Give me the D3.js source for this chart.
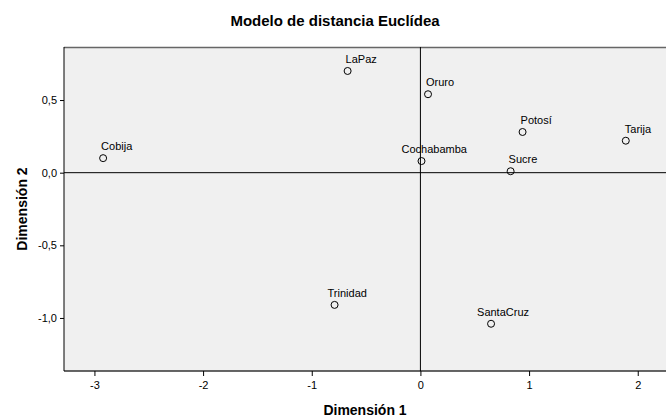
<!DOCTYPE html>
<html>
<head>
<meta charset="utf-8">
<script src="https://cdn.jsdelivr.net/npm/d3@7"></script>
<style>
  body { margin: 0; background: #fff; }
  text { font-family: "Liberation Sans", Arial, sans-serif; fill: #000; }
</style>
</head>
<body>
<script>
// data
let cities = ["Cobija", "LaPaz", "Oruro", "Potosí", "Tarija", "Cochabamba", "Sucre", "Trinidad", "SantaCruz"]
let dim1 = [-2.92, -0.67, 0.07, 0.94, 1.89, 0.01, 0.83, -0.79, 0.65]
let dim2 = [0.10, 0.70, 0.54, 0.28, 0.22, 0.08, 0.01, -0.91, -1.04]
let xTicks = [-3, -2, -1, 0, 1, 2]
let yTicks = [0.5, 0, -0.5, -1]

// label nudges (px), like SPSS placement
let labelDx = [-2, -2, -2, -2, -1, -20, -2, -7, -14]

let width = 666, height = 420
let pLeft = 64, pRight = 666, pTop = 47, pBottom = 371

let svg = d3.select("body").append("svg")
  .attr("width", width)
  .attr("height", height)

let x = d3.scaleLinear().domain([-3.28, 2.26]).range([pLeft, pRight])
let y = d3.scaleLinear().domain([-1.365, 0.865]).range([pBottom, pTop])

svg.append("rect")
  .attr("x", pLeft).attr("y", pTop)
  .attr("width", pRight - pLeft).attr("height", pBottom - pTop)
  .attr("fill", "#f0f0f0")

// frame
svg.append("line")
  .attr("x1", pLeft).attr("x2", pRight).attr("y1", pTop + 0.5).attr("y2", pTop + 0.5)
  .attr("stroke", "#666").attr("stroke-width", 1.5)
svg.append("line")
  .attr("x1", pLeft).attr("x2", pRight).attr("y1", pBottom).attr("y2", pBottom)
  .attr("stroke", "#333").attr("stroke-width", 1.5)
svg.append("line")
  .attr("x1", pLeft).attr("x2", pLeft).attr("y1", pTop).attr("y2", pBottom)
  .attr("stroke", "#000").attr("stroke-width", 1)

// reference lines
svg.append("line")
  .attr("x1", x(0)).attr("x2", x(0)).attr("y1", pTop).attr("y2", pBottom)
  .attr("stroke", "#000")
svg.append("line")
  .attr("x1", pLeft).attr("x2", pRight).attr("y1", y(0)).attr("y2", y(0))
  .attr("stroke", "#000")

let xAxis = svg.append("g")
  .attr("transform", `translate(0,${pBottom})`)
  .call(d3.axisBottom(x).tickValues(xTicks).tickSize(5)
    .tickFormat(d => String(d).replace("−", "-")))
xAxis.select(".domain").remove()
xAxis.selectAll("line").attr("stroke", "#000")
xAxis.selectAll("text").attr("font-size", 11).attr("dy", "0.9em")
  .style("font-family", "Liberation Sans, Arial, sans-serif")

let yAxis = svg.append("g")
  .attr("transform", `translate(${pLeft},0)`)
  .call(d3.axisLeft(y).tickValues(yTicks).tickSize(4)
    .tickFormat(d => d3.format(".1f")(d).replace(".", ",").replace("−", "-")))
yAxis.select(".domain").remove()
yAxis.selectAll("line").attr("stroke", "#000")
yAxis.selectAll("text").attr("font-size", 11).attr("x", -7)
  .style("font-family", "Liberation Sans, Arial, sans-serif")

let pts = svg.append("g")
  .selectAll("g")
  .data(cities)
  .enter()
  .append("g")

pts.append("circle")
  .attr("cx", (d, i) => x(dim1[i]))
  .attr("cy", (d, i) => y(dim2[i]))
  .attr("r", 3.5)
  .attr("fill", "none")
  .attr("stroke", "#000")
  .attr("stroke-width", 1)

pts.append("text")
  .attr("x", (d, i) => x(dim1[i]) + labelDx[i])
  .attr("y", (d, i) => y(dim2[i]) - 8)
  .attr("font-size", 11)
  .text(d => d)

svg.append("text")
  .attr("x", 335).attr("y", 26)
  .attr("text-anchor", "middle")
  .attr("font-size", 15).attr("font-weight", "bold")
  .text("Modelo de distancia Euclídea")

svg.append("text")
  .attr("x", 365).attr("y", 415)
  .attr("text-anchor", "middle")
  .attr("font-size", 14).attr("font-weight", "bold")
  .text("Dimensión 1")

svg.append("text")
  .attr("transform", "translate(27,209) rotate(-90)")
  .attr("text-anchor", "middle")
  .attr("font-size", 14).attr("font-weight", "bold")
  .text("Dimensión 2")
</script>
</body>
</html>
